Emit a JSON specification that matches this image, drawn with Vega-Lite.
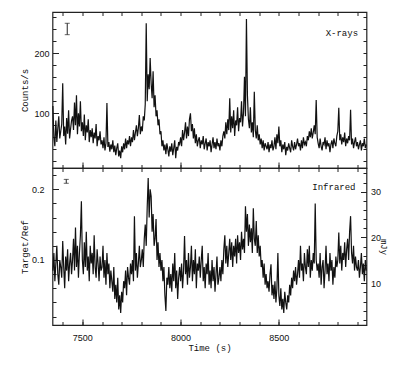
{
"$schema": "https://vega.github.io/schema/vega-lite/v6.json",
"padding": {"left": 18.5, "top": 10, "right": 0, "bottom": 0},
"spacing": 0,
"bounds": "flush",
"datasets": {
"lc": [
{"t":7350,"x":112,"r":0.085},{"t":7355,"x":60,"r":0.11},{"t":7360,"x":45,"r":0.07},{"t":7365,"x":88,"r":0.095},{"t":7370,"x":52,"r":0.12},{"t":7375,"x":75,"r":0.08},{"t":7380,"x":95,"r":0.065},{"t":7385,"x":58,"r":0.1},{"t":7390,"x":70,"r":0.09},{"t":7395,"x":82,"r":0.075},
{"t":7400,"x":150,"r":0.127},{"t":7405,"x":62,"r":0.09},{"t":7410,"x":78,"r":0.06},{"t":7415,"x":48,"r":0.105},{"t":7420,"x":92,"r":0.085},{"t":7425,"x":66,"r":0.115},{"t":7430,"x":105,"r":0.07},{"t":7435,"x":58,"r":0.095},{"t":7440,"x":74,"r":0.11},{"t":7445,"x":88,"r":0.08},
{"t":7450,"x":95,"r":0.1},{"t":7455,"x":72,"r":0.13},{"t":7460,"x":118,"r":0.085},{"t":7465,"x":80,"r":0.146},{"t":7470,"x":130,"r":0.09},{"t":7475,"x":65,"r":0.12},{"t":7480,"x":100,"r":0.075},{"t":7485,"x":78,"r":0.11},{"t":7490,"x":120,"r":0.135},{"t":7495,"x":70,"r":0.183},
{"t":7500,"x":85,"r":0.1},{"t":7505,"x":62,"r":0.08},{"t":7510,"x":98,"r":0.125},{"t":7515,"x":55,"r":0.09},{"t":7520,"x":80,"r":0.14},{"t":7525,"x":68,"r":0.085},{"t":7530,"x":90,"r":0.105},{"t":7535,"x":52,"r":0.07},{"t":7540,"x":72,"r":0.12},{"t":7545,"x":60,"r":0.095},
{"t":7550,"x":75,"r":0.11},{"t":7555,"x":50,"r":0.08},{"t":7560,"x":68,"r":0.135},{"t":7565,"x":58,"r":0.09},{"t":7570,"x":82,"r":0.075},{"t":7575,"x":45,"r":0.115},{"t":7580,"x":62,"r":0.095},{"t":7585,"x":55,"r":0.07},{"t":7590,"x":70,"r":0.105},{"t":7595,"x":48,"r":0.085},
{"t":7600,"x":55,"r":0.09},{"t":7605,"x":42,"r":0.12},{"t":7610,"x":60,"r":0.075},{"t":7615,"x":38,"r":0.1},{"t":7620,"x":50,"r":0.065},{"t":7625,"x":117,"r":0.11},{"t":7630,"x":44,"r":0.08},{"t":7635,"x":52,"r":0.095},{"t":7640,"x":36,"r":0.06},{"t":7645,"x":48,"r":0.085},
{"t":7650,"x":40,"r":0.07},{"t":7655,"x":55,"r":0.055},{"t":7660,"x":35,"r":0.09},{"t":7665,"x":46,"r":0.045},{"t":7670,"x":30,"r":0.065},{"t":7675,"x":42,"r":0.04},{"t":7680,"x":50,"r":0.075},{"t":7685,"x":28,"r":0.03},{"t":7690,"x":38,"r":0.05},{"t":7695,"x":25,"r":0.025},
{"t":7700,"x":45,"r":0.055},{"t":7705,"x":35,"r":0.04},{"t":7710,"x":50,"r":0.07},{"t":7715,"x":40,"r":0.06},{"t":7720,"x":58,"r":0.085},{"t":7725,"x":42,"r":0.05},{"t":7730,"x":55,"r":0.09},{"t":7735,"x":48,"r":0.075},{"t":7740,"x":62,"r":0.065},{"t":7745,"x":45,"r":0.095},
{"t":7750,"x":60,"r":0.08},{"t":7755,"x":52,"r":0.1},{"t":7760,"x":72,"r":0.07},{"t":7765,"x":55,"r":0.162},{"t":7770,"x":68,"r":0.085},{"t":7775,"x":80,"r":0.11},{"t":7780,"x":62,"r":0.075},{"t":7785,"x":75,"r":0.095},{"t":7790,"x":97,"r":0.12},{"t":7795,"x":65,"r":0.09},
{"t":7800,"x":78,"r":0.1},{"t":7805,"x":70,"r":0.115},{"t":7810,"x":95,"r":0.09},{"t":7815,"x":88,"r":0.13},{"t":7820,"x":115,"r":0.15},{"t":7825,"x":250,"r":0.12},{"t":7830,"x":120,"r":0.175},{"t":7835,"x":165,"r":0.216},{"t":7840,"x":140,"r":0.16},{"t":7845,"x":192,"r":0.2},
{"t":7850,"x":150,"r":0.19},{"t":7855,"x":125,"r":0.14},{"t":7860,"x":170,"r":0.165},{"t":7865,"x":110,"r":0.12},{"t":7870,"x":130,"r":0.13},{"t":7875,"x":95,"r":0.158},{"t":7880,"x":105,"r":0.1},{"t":7885,"x":80,"r":0.125},{"t":7890,"x":90,"r":0.09},{"t":7895,"x":65,"r":0.11},
{"t":7900,"x":70,"r":0.085},{"t":7905,"x":45,"r":0.1},{"t":7910,"x":55,"r":0.07},{"t":7915,"x":38,"r":0.09},{"t":7920,"x":48,"r":0.05},{"t":7925,"x":32,"r":0.028},{"t":7930,"x":50,"r":0.075},{"t":7935,"x":40,"r":0.065},{"t":7940,"x":28,"r":0.09},{"t":7945,"x":45,"r":0.06},
{"t":7950,"x":36,"r":0.08},{"t":7955,"x":50,"r":0.055},{"t":7960,"x":30,"r":0.095},{"t":7965,"x":42,"r":0.07},{"t":7970,"x":55,"r":0.11},{"t":7975,"x":25,"r":0.06},{"t":7980,"x":44,"r":0.085},{"t":7985,"x":38,"r":0.045},{"t":7990,"x":52,"r":0.075},{"t":7995,"x":48,"r":0.09},
{"t":8000,"x":60,"r":0.07},{"t":8005,"x":45,"r":0.095},{"t":8010,"x":72,"r":0.06},{"t":8015,"x":55,"r":0.085},{"t":8020,"x":68,"r":0.134},{"t":8025,"x":85,"r":0.08},{"t":8030,"x":58,"r":0.1},{"t":8035,"x":78,"r":0.065},{"t":8040,"x":62,"r":0.11},{"t":8045,"x":90,"r":0.075},
{"t":8050,"x":100,"r":0.09},{"t":8055,"x":70,"r":0.12},{"t":8060,"x":82,"r":0.07},{"t":8065,"x":58,"r":0.1},{"t":8070,"x":75,"r":0.08},{"t":8075,"x":50,"r":0.115},{"t":8080,"x":65,"r":0.06},{"t":8085,"x":45,"r":0.095},{"t":8090,"x":55,"r":0.085},{"t":8095,"x":60,"r":0.105},
{"t":8100,"x":42,"r":0.075},{"t":8105,"x":55,"r":0.1},{"t":8110,"x":48,"r":0.12},{"t":8115,"x":62,"r":0.07},{"t":8120,"x":40,"r":0.09},{"t":8125,"x":50,"r":0.06},{"t":8130,"x":58,"r":0.095},{"t":8135,"x":38,"r":0.08},{"t":8140,"x":52,"r":0.11},{"t":8145,"x":45,"r":0.065},
{"t":8150,"x":55,"r":0.085},{"t":8155,"x":35,"r":0.06},{"t":8160,"x":48,"r":0.1},{"t":8165,"x":60,"r":0.07},{"t":8170,"x":42,"r":0.09},{"t":8175,"x":52,"r":0.055},{"t":8180,"x":40,"r":0.08},{"t":8185,"x":58,"r":0.105},{"t":8190,"x":45,"r":0.065},{"t":8195,"x":50,"r":0.075},
{"t":8200,"x":38,"r":0.09},{"t":8205,"x":55,"r":0.07},{"t":8210,"x":45,"r":0.1},{"t":8215,"x":62,"r":0.08},{"t":8220,"x":70,"r":0.115},{"t":8225,"x":58,"r":0.135},{"t":8230,"x":85,"r":0.095},{"t":8235,"x":65,"r":0.12},{"t":8240,"x":90,"r":0.09},{"t":8245,"x":72,"r":0.11},
{"t":8250,"x":125,"r":0.13},{"t":8255,"x":68,"r":0.1},{"t":8260,"x":95,"r":0.125},{"t":8265,"x":75,"r":0.09},{"t":8270,"x":105,"r":0.12},{"t":8275,"x":62,"r":0.105},{"t":8280,"x":88,"r":0.13},{"t":8285,"x":80,"r":0.095},{"t":8290,"x":110,"r":0.135},{"t":8295,"x":70,"r":0.11},
{"t":8300,"x":92,"r":0.125},{"t":8305,"x":85,"r":0.1},{"t":8310,"x":120,"r":0.14},{"t":8315,"x":78,"r":0.115},{"t":8320,"x":100,"r":0.13},{"t":8325,"x":161,"r":0.11},{"t":8330,"x":95,"r":0.176},{"t":8335,"x":257,"r":0.14},{"t":8340,"x":130,"r":0.165},{"t":8345,"x":90,"r":0.12},
{"t":8350,"x":75,"r":0.15},{"t":8355,"x":110,"r":0.125},{"t":8360,"x":68,"r":0.145},{"t":8365,"x":85,"r":0.11},{"t":8370,"x":60,"r":0.173},{"t":8375,"x":136,"r":0.13},{"t":8380,"x":72,"r":0.12},{"t":8385,"x":58,"r":0.155},{"t":8390,"x":80,"r":0.11},{"t":8395,"x":55,"r":0.135},
{"t":8400,"x":65,"r":0.105},{"t":8405,"x":48,"r":0.12},{"t":8410,"x":58,"r":0.09},{"t":8415,"x":42,"r":0.1},{"t":8420,"x":55,"r":0.075},{"t":8425,"x":38,"r":0.095},{"t":8430,"x":50,"r":0.065},{"t":8435,"x":45,"r":0.08},{"t":8440,"x":40,"r":0.06},{"t":8445,"x":52,"r":0.07},
{"t":8450,"x":35,"r":0.055},{"t":8455,"x":48,"r":0.08},{"t":8460,"x":42,"r":0.094},{"t":8465,"x":55,"r":0.05},{"t":8470,"x":38,"r":0.065},{"t":8475,"x":45,"r":0.045},{"t":8480,"x":60,"r":0.07},{"t":8485,"x":40,"r":0.04},{"t":8490,"x":65,"r":0.06},{"t":8495,"x":50,"r":0.11},
{"t":8500,"x":78,"r":0.05},{"t":8505,"x":45,"r":0.035},{"t":8510,"x":55,"r":0.06},{"t":8515,"x":35,"r":0.03},{"t":8520,"x":48,"r":0.045},{"t":8525,"x":40,"r":0.025},{"t":8530,"x":52,"r":0.055},{"t":8535,"x":30,"r":0.04},{"t":8540,"x":44,"r":0.03},{"t":8545,"x":38,"r":0.05},
{"t":8550,"x":50,"r":0.04},{"t":8555,"x":42,"r":0.065},{"t":8560,"x":35,"r":0.05},{"t":8565,"x":55,"r":0.075},{"t":8570,"x":45,"r":0.06},{"t":8575,"x":38,"r":0.085},{"t":8580,"x":52,"r":0.07},{"t":8585,"x":40,"r":0.09},{"t":8590,"x":48,"r":0.065},{"t":8595,"x":58,"r":0.08},
{"t":8600,"x":45,"r":0.1},{"t":8605,"x":50,"r":0.075},{"t":8610,"x":38,"r":0.12},{"t":8615,"x":55,"r":0.085},{"t":8620,"x":42,"r":0.095},{"t":8625,"x":60,"r":0.07},{"t":8630,"x":48,"r":0.11},{"t":8635,"x":52,"r":0.09},{"t":8640,"x":45,"r":0.08},{"t":8645,"x":62,"r":0.115},
{"t":8650,"x":55,"r":0.09},{"t":8655,"x":70,"r":0.12},{"t":8660,"x":60,"r":0.075},{"t":8665,"x":75,"r":0.1},{"t":8670,"x":58,"r":0.085},{"t":8675,"x":68,"r":0.11},{"t":8680,"x":80,"r":0.095},{"t":8685,"x":65,"r":0.18},{"t":8690,"x":122,"r":0.1},{"t":8695,"x":60,"r":0.085},
{"t":8700,"x":50,"r":0.095},{"t":8705,"x":42,"r":0.075},{"t":8710,"x":58,"r":0.11},{"t":8715,"x":45,"r":0.065},{"t":8720,"x":38,"r":0.09},{"t":8725,"x":52,"r":0.1},{"t":8730,"x":48,"r":0.06},{"t":8735,"x":60,"r":0.085},{"t":8740,"x":40,"r":0.12},{"t":8745,"x":55,"r":0.08},
{"t":8750,"x":45,"r":0.095},{"t":8755,"x":50,"r":0.07},{"t":8760,"x":35,"r":0.11},{"t":8765,"x":48,"r":0.085},{"t":8770,"x":55,"r":0.1},{"t":8775,"x":42,"r":0.065},{"t":8780,"x":58,"r":0.09},{"t":8785,"x":50,"r":0.075},{"t":8790,"x":45,"r":0.105},{"t":8795,"x":62,"r":0.09},
{"t":8800,"x":70,"r":0.1},{"t":8805,"x":109,"r":0.139},{"t":8810,"x":55,"r":0.095},{"t":8815,"x":65,"r":0.12},{"t":8820,"x":48,"r":0.085},{"t":8825,"x":60,"r":0.11},{"t":8830,"x":52,"r":0.1},{"t":8835,"x":68,"r":0.125},{"t":8840,"x":45,"r":0.09},{"t":8845,"x":58,"r":0.115},
{"t":8850,"x":50,"r":0.13},{"t":8855,"x":62,"r":0.1},{"t":8860,"x":55,"r":0.14},{"t":8865,"x":106,"r":0.162},{"t":8870,"x":48,"r":0.11},{"t":8875,"x":58,"r":0.095},{"t":8880,"x":42,"r":0.12},{"t":8885,"x":52,"r":0.085},{"t":8890,"x":60,"r":0.105},{"t":8895,"x":45,"r":0.09},
{"t":8900,"x":52,"r":0.085},{"t":8905,"x":40,"r":0.1},{"t":8910,"x":48,"r":0.075},{"t":8915,"x":55,"r":0.09},{"t":8920,"x":38,"r":0.11},{"t":8925,"x":50,"r":0.08},{"t":8930,"x":45,"r":0.095},{"t":8935,"x":58,"r":0.07},{"t":8940,"x":42,"r":0.1},{"t":8945,"x":48,"r":0.085}
],
"xlab": [{"t": 8903, "v": 234, "label": "X-rays"}],
"xerr": [{"t": 7423, "lo": 231, "hi": 250}],
"irlab": [{"t": 8890, "v": 0.203, "label": "Infrared"}],
"irerr": [{"t": 7418, "lo": 0.2085, "hi": 0.214}],
"mjy": [{"m": 10}, {"m": 20}, {"m": 30}]
},
"config": {
"view": {"stroke": "#222", "strokeWidth": 1.2},
"axis": {"domain": false, "grid": false, "ticks": true, "zindex": 1, "tickColor": "#222", "tickOpacity": 1, "tickWidth": 1, "labelFont": "Liberation Sans", "labelFontSize": 9, "labelColor": "#111", "labelOverlap": false, "titleFont": "Liberation Mono", "titleFontSize": 9, "titleFontWeight": "normal", "titleColor": "#111"}
},
"vconcat": [
{
"width": 314, "height": 156,
"resolve": {"axis": {"x": "independent", "y": "independent"}},
"layer": [
{"data": {"name": "lc"}, "mark": {"type": "line", "color": "#111", "strokeWidth": 1.2},
"encoding": {
"x": {"field": "t", "type": "quantitative", "scale": {"domain": [7348, 8946], "nice": false, "zero": false},
"axis": {"orient": "bottom", "values": [7500, 8000, 8500], "labels": false, "title": null, "offset": -6, "tickSize": 6}},
"y": {"field": "x", "type": "quantitative", "scale": {"domain": [8.8, 268.8], "nice": false, "zero": false},
"axis": {"orient": "left", "values": [100, 200], "title": "Counts/s", "titleX": -34.5, "titleBaseline": "middle", "offset": -6, "tickSize": 6, "labelPadding": 3.5}}
}},
{"data": {"name": "lc"}, "mark": {"type": "line", "opacity": 0},
"encoding": {
"x": {"field": "t", "type": "quantitative", "scale": {"domain": [7348, 8946], "nice": false, "zero": false},
"axis": {"orient": "bottom", "values": [7400,7500,7600,7700,7800,7900,8000,8100,8200,8300,8400,8500,8600,8700,8800,8900], "labels": false, "title": null, "offset": -3.5, "tickSize": 3.5}},
"y": {"field": "x", "type": "quantitative", "scale": {"domain": [8.8, 268.8], "nice": false, "zero": false},
"axis": {"orient": "left", "values": [20,40,60,80,100,120,140,160,180,200,220,240,260], "labels": false, "title": null, "offset": -3.5, "tickSize": 3.5}}
}},
{"data": {"name": "lc"}, "mark": {"type": "line", "opacity": 0},
"encoding": {
"x": {"field": "t", "type": "quantitative", "scale": {"domain": [7348, 8946], "nice": false, "zero": false},
"axis": {"orient": "top", "values": [7400,7500,7600,7700,7800,7900,8000,8100,8200,8300,8400,8500,8600,8700,8800,8900], "labels": false, "title": null, "offset": -3.5, "tickSize": 3.5}},
"y": {"field": "x", "type": "quantitative", "scale": {"domain": [8.8, 268.8], "nice": false, "zero": false},
"axis": {"orient": "right", "values": [20,40,60,80,100,120,140,160,180,200,220,240,260], "labels": false, "title": null, "offset": -3.5, "tickSize": 3.5}}
}},
{"data": {"name": "xlab"}, "mark": {"type": "text", "align": "right", "baseline": "middle", "font": "Liberation Mono", "fontSize": 9, "color": "#111"},
"encoding": {
"x": {"field": "t", "type": "quantitative", "scale": {"domain": [7348, 8946], "nice": false, "zero": false}, "axis": null},
"y": {"field": "v", "type": "quantitative", "scale": {"domain": [8.8, 268.8], "nice": false, "zero": false}, "axis": null},
"text": {"field": "label"}
}},
{"data": {"name": "xerr"}, "mark": {"type": "errorbar", "ticks": true, "color": "#222"},
"encoding": {
"x": {"field": "t", "type": "quantitative", "scale": {"domain": [7348, 8946], "nice": false, "zero": false}, "axis": null},
"y": {"field": "lo", "type": "quantitative", "scale": {"domain": [8.8, 268.8], "nice": false, "zero": false}, "axis": null},
"y2": {"field": "hi"}
}}
]
},
{
"width": 314, "height": 157,
"resolve": {"scale": {"y": "independent"}, "axis": {"x": "independent", "y": "independent"}},
"layer": [
{"data": {"name": "lc"}, "mark": {"type": "line", "color": "#111", "strokeWidth": 1.2},
"encoding": {
"x": {"field": "t", "type": "quantitative", "scale": {"domain": [7348, 8946], "nice": false, "zero": false},
"axis": {"orient": "bottom", "values": [7500, 8000, 8500], "format": "d", "title": "Time (s)", "titleY": 28.7, "titleBaseline": "middle", "offset": -6, "tickSize": 6, "labelPadding": 8}},
"y": {"field": "r", "type": "quantitative", "scale": {"domain": [0.00806, 0.2301], "nice": false, "zero": false},
"axis": {"orient": "left", "values": [0.1, 0.2], "format": ".1f", "title": "Target/Ref", "titleX": -34.5, "titleBaseline": "middle", "offset": -6, "tickSize": 6, "labelPadding": 8.5}}
}},
{"data": {"name": "lc"}, "mark": {"type": "line", "opacity": 0},
"encoding": {
"x": {"field": "t", "type": "quantitative", "scale": {"domain": [7348, 8946], "nice": false, "zero": false},
"axis": {"orient": "bottom", "values": [7400,7500,7600,7700,7800,7900,8000,8100,8200,8300,8400,8500,8600,8700,8800,8900], "labels": false, "title": null, "offset": -3.5, "tickSize": 3.5}},
"y": {"field": "r", "type": "quantitative", "scale": {"domain": [0.00806, 0.2301], "nice": false, "zero": false},
"axis": {"orient": "left", "values": [0.02,0.04,0.06,0.08,0.1,0.12,0.14,0.16,0.18,0.2,0.22], "labels": false, "title": null, "offset": -3.5, "tickSize": 3.5}}
}},
{"data": {"name": "lc"}, "mark": {"type": "line", "opacity": 0},
"encoding": {
"x": {"field": "t", "type": "quantitative", "scale": {"domain": [7348, 8946], "nice": false, "zero": false},
"axis": {"orient": "top", "values": [7400,7500,7600,7700,7800,7900,8000,8100,8200,8300,8400,8500,8600,8700,8800,8900], "labels": false, "title": null, "offset": -3.5, "tickSize": 3.5}},
"y": {"field": "r", "type": "quantitative", "scale": {"domain": [0.00806, 0.2301], "nice": false, "zero": false}, "axis": null}
}},
{"data": {"name": "irlab"}, "mark": {"type": "text", "align": "right", "baseline": "middle", "font": "Liberation Mono", "fontSize": 9, "color": "#111"},
"encoding": {
"x": {"field": "t", "type": "quantitative", "scale": {"domain": [7348, 8946], "nice": false, "zero": false}, "axis": null},
"y": {"field": "v", "type": "quantitative", "scale": {"domain": [0.00806, 0.2301], "nice": false, "zero": false}, "axis": null},
"text": {"field": "label"}
}},
{"data": {"name": "irerr"}, "mark": {"type": "errorbar", "ticks": true, "color": "#222"},
"encoding": {
"x": {"field": "t", "type": "quantitative", "scale": {"domain": [7348, 8946], "nice": false, "zero": false}, "axis": null},
"y": {"field": "lo", "type": "quantitative", "scale": {"domain": [0.00806, 0.2301], "nice": false, "zero": false}, "axis": null},
"y2": {"field": "hi"}
}},
{"data": {"name": "mjy"}, "mark": {"type": "rule", "opacity": 0},
"encoding": {
"y": {"field": "m", "type": "quantitative", "scale": {"domain": [0.9, 35.17], "nice": false, "zero": false},
"axis": {"orient": "right", "values": [10, 20, 30], "title": "mJy", "titleX": 23.3, "titleBaseline": "middle", "titleAngle": 90, "offset": -6, "tickSize": 6, "labelPadding": 4}}
}},
{"data": {"name": "mjy"}, "mark": {"type": "rule", "opacity": 0},
"encoding": {
"y": {"field": "m", "type": "quantitative", "scale": {"domain": [0.9, 35.17], "nice": false, "zero": false},
"axis": {"orient": "right", "values": [2,4,6,8,10,12,14,16,18,20,22,24,26,28,30,32,34], "labels": false, "title": null, "offset": -3.5, "tickSize": 3.5}}
}}
]
}
]
}
